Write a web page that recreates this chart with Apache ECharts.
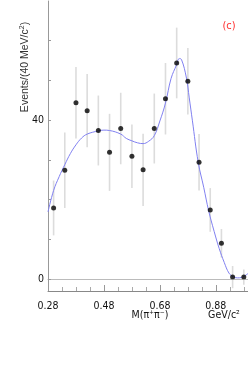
<!DOCTYPE html>
<html>
<head>
<meta charset="utf-8">
<script src="https://cdn.jsdelivr.net/npm/echarts@6/dist/echarts.min.js"></script>
<style>
html,body{margin:0;padding:0;background:#fff;}
#c{width:248px;height:370px;}
</style>
</head>
<body>
<div id="c"></div>
<script>
// ---- data ----
const X_OFFSET = 0.28;
const binCenters = [0.30,0.34,0.38,0.42,0.46,0.50,0.54,0.58,0.62,0.66,0.70,0.74,0.78,0.82,0.86,0.90,0.94,0.98];
const counts     = [17.9,27.4,44.4,42.4,37.4,31.9,37.9,30.9,27.5,37.9,45.4,54.4,49.8,29.4,17.4,9.0,0.5,0.5];
const errors     = [6.9,9.5,9.0,9.2,8.8,9.7,9.0,8.0,9.1,8.8,9.0,8.9,8.4,7.1,5.5,3.6,2.8,1.9];
const fitX = [0.28,0.30,0.32,0.34,0.36,0.38,0.40,0.42,0.46,0.48,0.50,0.54,0.56,0.58,0.60,0.62,0.64,0.66,0.68,0.70,0.72,0.74,0.749,0.757,0.775,0.785,0.796,0.817,0.837,0.854,0.874,0.892,0.91,0.927,0.942,0.957,0.971,0.995];
const fitY = [16.9,22.3,25.8,28.8,31.6,33.8,35.5,36.5,37.3,37.5,37.4,36.5,35.4,34.8,34.3,34.1,34.7,36.1,39.8,44.3,50.5,54.0,55.5,55.3,50.6,45.6,40.0,29.4,23.0,17.3,12.0,7.7,4.2,1.5,0.6,0.3,0.4,1.4];
const xTickLabels = ['0.28','0.48','0.68','0.88'];
const yTickLabels = ['0','40'];

const FONT = '"Liberation Sans Narrow","DejaVu Sans Condensed","Liberation Sans",sans-serif';

const pts = binCenters.map((x,i)=>[x - X_OFFSET, counts[i]]);
const bars = binCenters.map((x,i)=>[x - X_OFFSET, counts[i]-errors[i], counts[i]+errors[i]]);
const fit = fitX.map((x,i)=>[x - X_OFFSET, fitY[i]]);

const chart = echarts.init(document.getElementById('c'), null, {renderer:'canvas'});
chart.setOption({
  animation:false,
  backgroundColor:'#fff',
  grid:{left:48, right:0, top:1, bottom:79},
  xAxis:[{
    type:'value', min:0, max:0.715, interval:0.2,
    axisLine:{show:true, onZero:false, lineStyle:{color:'#888', width:1}},
    axisTick:{show:true, inside:true, length:6, lineStyle:{color:'#999'}},
    minorTick:{show:true, splitNumber:4, length:4, lineStyle:{color:'#aaa'}},
    splitLine:{show:false},
    axisLabel:{
      margin:10, color:'#111', fontSize:10.5, fontFamily:FONT,
      showMaxLabel:false,
      formatter:function(v){
        const k = v/0.2;
        if (Math.abs(k-Math.round(k))<1e-6) { return xTickLabels[Math.round(k)] || ''; }
        return '';
      }
    }
  },{
    type:'value', position:'top', min:0, max:0.715,
    axisLine:{show:true, lineStyle:{color:'#bbb', width:1}},
    axisTick:{show:false}, axisLabel:{show:false}, splitLine:{show:false}
  }],
  yAxis:{
    type:'value', min:-3, max:70, splitNumber:7, minInterval:10, maxInterval:10,
    axisLine:{show:true, onZero:false, lineStyle:{color:'#999', width:1}},
    axisTick:{show:true, inside:true, length:3, lineStyle:{color:'#999'}},
    splitLine:{show:false},
    axisLabel:{
      margin:4, color:'#111', fontSize:10.5, fontFamily:FONT,
      showMinLabel:false, showMaxLabel:false,
      formatter:function(v){
        if (Math.abs(v)<1e-6) return yTickLabels[0];
        if (Math.abs(v-40)<1e-6) return yTickLabels[1];
        return '';
      }
    }
  },
  series:[
    {
      type:'custom', xAxisIndex:0, data:bars, z:1,
      renderItem:function(params, api){
        const p1 = api.coord([api.value(0), api.value(1)]);
        const p2 = api.coord([api.value(0), api.value(2)]);
        return {type:'line', shape:{x1:p1[0], y1:p1[1], x2:p2[0], y2:p2[1]},
                style:{stroke:'#dcdcdc', lineWidth:1.6}};
      }
    },
    {
      type:'line', xAxisIndex:0, data:fit, smooth:0.4, showSymbol:false, z:2,
      lineStyle:{color:'#8080f0', width:1}
    },
    {
      type:'scatter', xAxisIndex:0, data:pts, symbol:'circle', symbolSize:5, z:3,
      itemStyle:{color:'#000'}
    }
  ],
  graphic:[
    {type:'text', x:25, y:67, rotation:Math.PI/2,
     style:{text:'Events/(40 MeV/c{s|2})', fill:'#333', font:'10.5px "Liberation Sans",sans-serif',
            align:'center', verticalAlign:'middle',
            rich:{s:{fontSize:7, verticalAlign:'top', padding:[0,0,5,0], fill:'#333'}}}},
    {type:'text', x:150, y:315,
     style:{text:'M(π⁺π⁻)', fill:'#111', font:'10.5px '+FONT, align:'center', verticalAlign:'middle'}},
    {type:'text', x:224, y:315,
     style:{text:'GeV/c²', fill:'#111', font:'10.5px '+FONT, align:'center', verticalAlign:'middle'}},
    {type:'text', x:229, y:26,
     style:{text:'(c)', fill:'#ff3030', font:'11px '+FONT, align:'center', verticalAlign:'middle'}}
  ]
});
</script>
</body>
</html>
